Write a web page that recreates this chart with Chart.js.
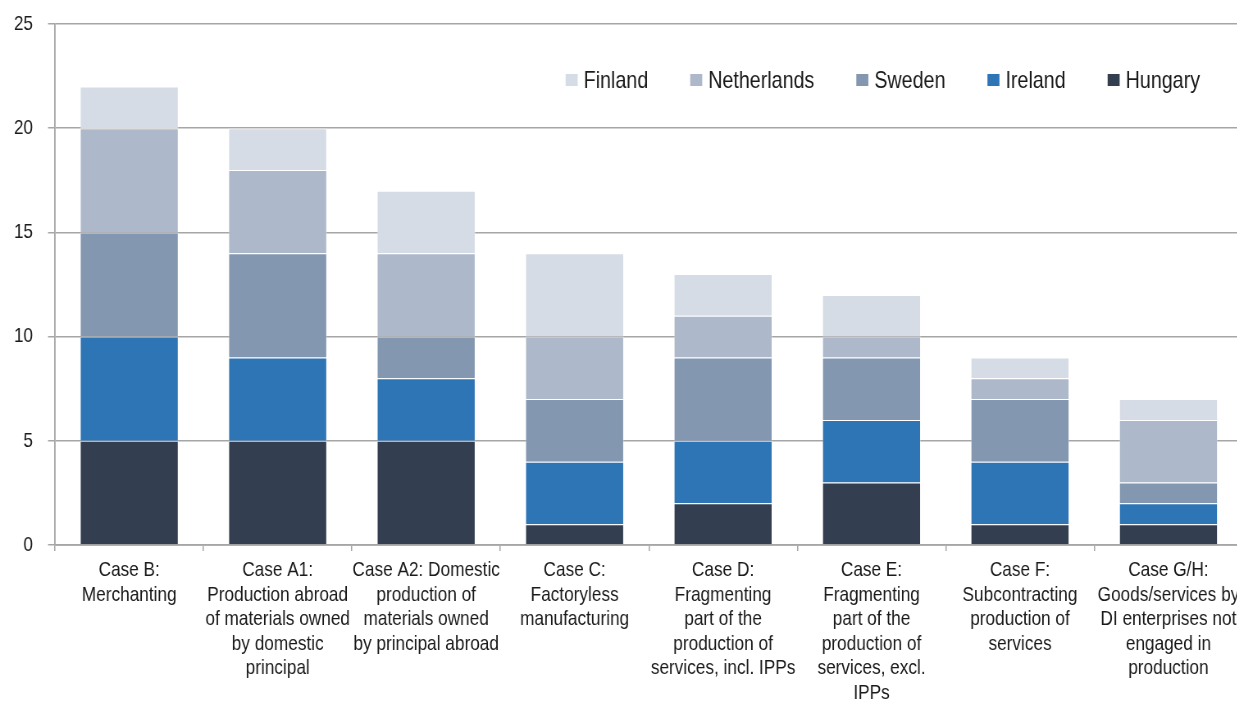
<!DOCTYPE html>
<html>
<head>
<meta charset="utf-8">
<script src="https://cdn.jsdelivr.net/npm/chart.js@4.4.1/dist/chart.umd.min.js"></script>
<style>
  html, body { margin: 0; padding: 0; background: #fff; overflow: hidden; }
  /* fuente estrecha simulada: el lienzo se comprime en horizontal */
  #chart { transform: scaleX(0.82); transform-origin: 0 0; display: block; }
</style>
</head>
<body>
<canvas id="chart" width="1524" height="702"></canvas>
<script>
// categorias (etiquetas en varias lineas)
const categorias = [
    ['Case B:', 'Merchanting'],
    ['Case A1:', 'Production abroad', 'of materials owned', 'by domestic', 'principal'],
    ['Case A2: Domestic', 'production of', 'materials owned', 'by principal abroad'],
    ['Case C:', 'Factoryless', 'manufacturing'],
    ['Case D:', 'Fragmenting', 'part of the', 'production of', 'services, incl. IPPs'],
    ['Case E:', 'Fragmenting', 'part of the', 'production of', 'services, excl.', 'IPPs'],
    ['Case F:', 'Subcontracting', 'production of', 'services'],
    ['Case G/H:', 'Goods/services by', 'DI enterprises not', 'engaged in', 'production']
];

// series
const hungary     = [5, 5, 5, 1, 2, 3, 1, 1];
const ireland     = [5, 4, 3, 3, 3, 3, 3, 1];
const sweden      = [5, 5, 2, 3, 4, 3, 3, 1];
const netherlands = [5, 4, 4, 3, 2, 1, 1, 3];
const finland     = [2, 2, 3, 4, 2, 2, 1, 1];

const yTicks = [0, 5, 10, 15, 20, 25];

const fuente = '"Liberation Sans", Arial, sans-serif';
const k = 1 / 0.82; // factor horizontal

// leyenda dentro del area del grafico (orden invertido)
const leyendaPlugin = {
    id: 'leyendaInterna',
    afterDraw(chart) {
        const ctx = chart.ctx;
        const items = chart.data.datasets.slice().reverse();
        ctx.save();
        ctx.font = '24px ' + fuente;
        ctx.textBaseline = 'middle';
        ctx.textAlign = 'left';
        const boxW = 12 * k, boxH = 12, gapBox = 6 * k, gapItem = 42 * k;
        let total = 0;
        items.forEach((d, i) => {
            total += boxW + gapBox + ctx.measureText(d.label).width + (i < items.length - 1 ? gapItem : 0);
        });
        let x = 1200 * k - total;
        const y = 80;
        items.forEach(d => {
            ctx.fillStyle = d.backgroundColor;
            ctx.fillRect(x, y - 6, boxW, boxH);
            x += boxW + gapBox;
            ctx.fillStyle = '#1a1a1a';
            ctx.fillText(d.label, x, y + 1);
            x += ctx.measureText(d.label).width + gapItem;
        });
        ctx.restore();
    }
};

const ctx = document.getElementById('chart').getContext('2d');
new Chart(ctx, {
    type: 'bar',
    data: {
        labels: categorias,
        datasets: [
            { label: 'Hungary', data: hungary, backgroundColor: '#333f50' },
            { label: 'Ireland', data: ireland, backgroundColor: '#2e75b6' },
            { label: 'Sweden', data: sweden, backgroundColor: '#8497b0' },
            { label: 'Netherlands', data: netherlands, backgroundColor: '#adb9ca' },
            { label: 'Finland', data: finland, backgroundColor: '#d6dce5' }
        ].map(d => Object.assign(d, {
            borderColor: 'rgba(255,255,255,0.35)',
            borderWidth: 1,
            categoryPercentage: 1,
            barPercentage: 0.665
        }))
    },
    options: {
        responsive: false,
        animation: false,
        layout: { padding: { top: 24, right: 7 * k, left: 0, bottom: 0 } },
        plugins: {
            legend: { display: false },
            tooltip: { enabled: false }
        },
        scales: {
            x: {
                stacked: true,
                grid: {
                    drawOnChartArea: false,
                    color: '#a6a6a6',
                    lineWidth: 1.5,
                    tickLength: 6
                },
                border: { color: '#a6a6a6', width: 1.8 },
                ticks: {
                    autoSkip: false,
                    maxRotation: 0,
                    minRotation: 0,
                    padding: 7,
                    color: '#1a1a1a',
                    font: { family: fuente, size: 21, lineHeight: 1.17 }
                },
                afterFit: s => {
                    s.height = 157;
                    s.paddingLeft = 0;
                    s.paddingRight = 0;
                }
            },
            y: {
                stacked: true,
                min: 0,
                max: 25,
                afterBuildTicks: s => { s.ticks = yTicks.map(v => ({ value: v })); },
                grid: {
                    color: '#a6a6a6',
                    lineWidth: 1.5,
                    tickLength: 7 * k
                },
                border: { color: '#a6a6a6', width: 1.8 },
                ticks: {
                    padding: 15 * k,
                    color: '#1a1a1a',
                    font: { family: fuente, size: 21 }
                },
                afterFit: s => {
                    s.width = 55 * k;
                    s.paddingTop = 0;
                    s.paddingBottom = 0;
                }
            }
        }
    },
    plugins: [leyendaPlugin]
});
</script>
</body>
</html>
